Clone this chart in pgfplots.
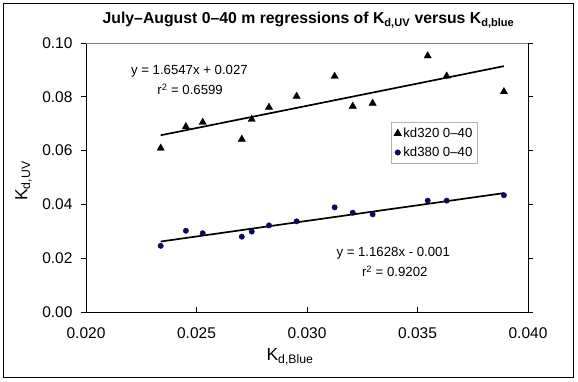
\documentclass[border=0pt]{standalone}
\usepackage{fontspec}
\setmainfont{Liberation Sans}
\usepackage{pgfplots}
\pgfplotsset{compat=1.18}
\definecolor{navy}{RGB}{10,10,90}
\begin{document}
\begin{tikzpicture}[x=1pt,y=1pt]
\begin{axis}[
  at={(0pt,0pt)}, anchor=south west,
  scale only axis, width=442pt, height=269pt,
  xmin=0.020, xmax=0.040, ymin=0, ymax=0.10,
  axis x line*=bottom, axis y line*=left,
  axis line style={black, line width=0.9pt},
  tick align=outside,
  major tick length=5pt,
  every tick/.append style={black, line width=0.9pt},
  every major x tick/.append style={yshift=5pt},
  xtick={0.020,0.025,0.030,0.035,0.040},
  ytick={0,0.02,0.04,0.06,0.08,0.10},
  scaled x ticks=false, scaled y ticks=false,
  xticklabel style={/pgf/number format/fixed, /pgf/number format/fixed zerofill, /pgf/number format/precision=3, /pgf/number format/assume math mode=true, font=\fontsize{15.5}{18}\selectfont, yshift=-7.5pt},
  yticklabel style={/pgf/number format/fixed, /pgf/number format/fixed zerofill, /pgf/number format/precision=2, /pgf/number format/assume math mode=true, font=\fontsize{15.5}{18}\selectfont, xshift=-5pt},
  clip=false,
  legend style={at={(0.6896,0.706)}, anchor=north west, draw=gray!60, line width=0.6pt,
    font=\fontsize{13.2}{15}\selectfont, inner xsep=3pt, inner ysep=3.5pt, row sep=4pt,
    cells={anchor=west}},
  legend image code/.code={\draw[mark repeat=2,mark phase=2] plot coordinates {(0pt,0pt)(5pt,0pt)(10pt,0pt)};},
]
\addplot[only marks, mark=triangle*, mark size=4.2pt, mark options={fill=black, draw=black}] coordinates {
(0.02338,0.0609) (0.02452,0.0689) (0.02528,0.0705) (0.02705,0.0642) (0.02750,0.0716)
(0.02828,0.0761) (0.02953,0.0802) (0.03125,0.0876) (0.03207,0.0765) (0.03297,0.0776)
(0.03546,0.0952) (0.03632,0.0877) (0.03891,0.0819)};
\addlegendentry{kd320 0–40}
\addplot[only marks, mark=*, mark size=2.7pt, mark options={fill=navy, draw=navy}] coordinates {
(0.02338,0.0246) (0.02452,0.0302) (0.02528,0.0293) (0.02705,0.0280) (0.02750,0.0299)
(0.02828,0.0322) (0.02953,0.0337) (0.03125,0.0389) (0.03207,0.0369) (0.03297,0.0363)
(0.03546,0.0414) (0.03632,0.0414) (0.03891,0.0434)};
\addlegendentry{kd380 0–40}
\addplot[black, line width=1.7pt, no marks, forget plot] coordinates {(0.02338,0.0657) (0.03891,0.0914)};
\addplot[black, line width=1.7pt, no marks, forget plot] coordinates {(0.02338,0.0262) (0.03891,0.0442)};
\node[font=\fontsize{13.2}{15}\selectfont] at (axis cs:0.02468,0.0896) {y = 1.6547x + 0.027};
\node[font=\fontsize{13.2}{15}\selectfont] at (axis cs:0.02471,0.0828) {r\textsuperscript{2} = 0.6599};
\node[font=\fontsize{13.2}{15}\selectfont] at (axis cs:0.03390,0.0218) {y = 1.1628x - 0.001};
\node[font=\fontsize{13.2}{15}\selectfont] at (axis cs:0.03397,0.0150) {r\textsuperscript{2} = 0.9202};
\end{axis}
\begin{axis}[
  at={(0pt,0pt)}, anchor=south west,
  scale only axis, width=442pt, height=269pt,
  xmin=0.020, xmax=0.040, ymin=0, ymax=0.10,
  axis x line*=top, axis y line*=right,
  x axis line style={gray, line width=0.9pt},
  y axis line style={black, line width=0.9pt},
  xtick=\empty,
  ytick={0,0.02,0.04,0.06,0.08,0.10}, yticklabels={},
  tick align=outside, major tick length=5pt,
  every tick/.append style={black, line width=0.9pt},
]
\end{axis}
\node[font=\bfseries\fontsize{15.8}{19}\selectfont] at (222.5pt,291.5pt) {July–August 0–40 m regressions of K\textsubscript{d,UV} versus K\textsubscript{d,blue}};
\node[font=\fontsize{17.5}{20}\selectfont] at (204pt,-45pt) {K\textsubscript{d,Blue}};
\node[font=\fontsize{17.5}{20}\selectfont, rotate=90] at (-62.5pt,131pt) {K\textsubscript{d,UV}};
\draw[black, line width=1pt] (-82pt,-65pt) rectangle (487pt,308pt);
\pgfresetboundingbox
\path[use as bounding box] (-86pt,-69pt) rectangle (492pt,312pt);
\end{tikzpicture}
\end{document}
